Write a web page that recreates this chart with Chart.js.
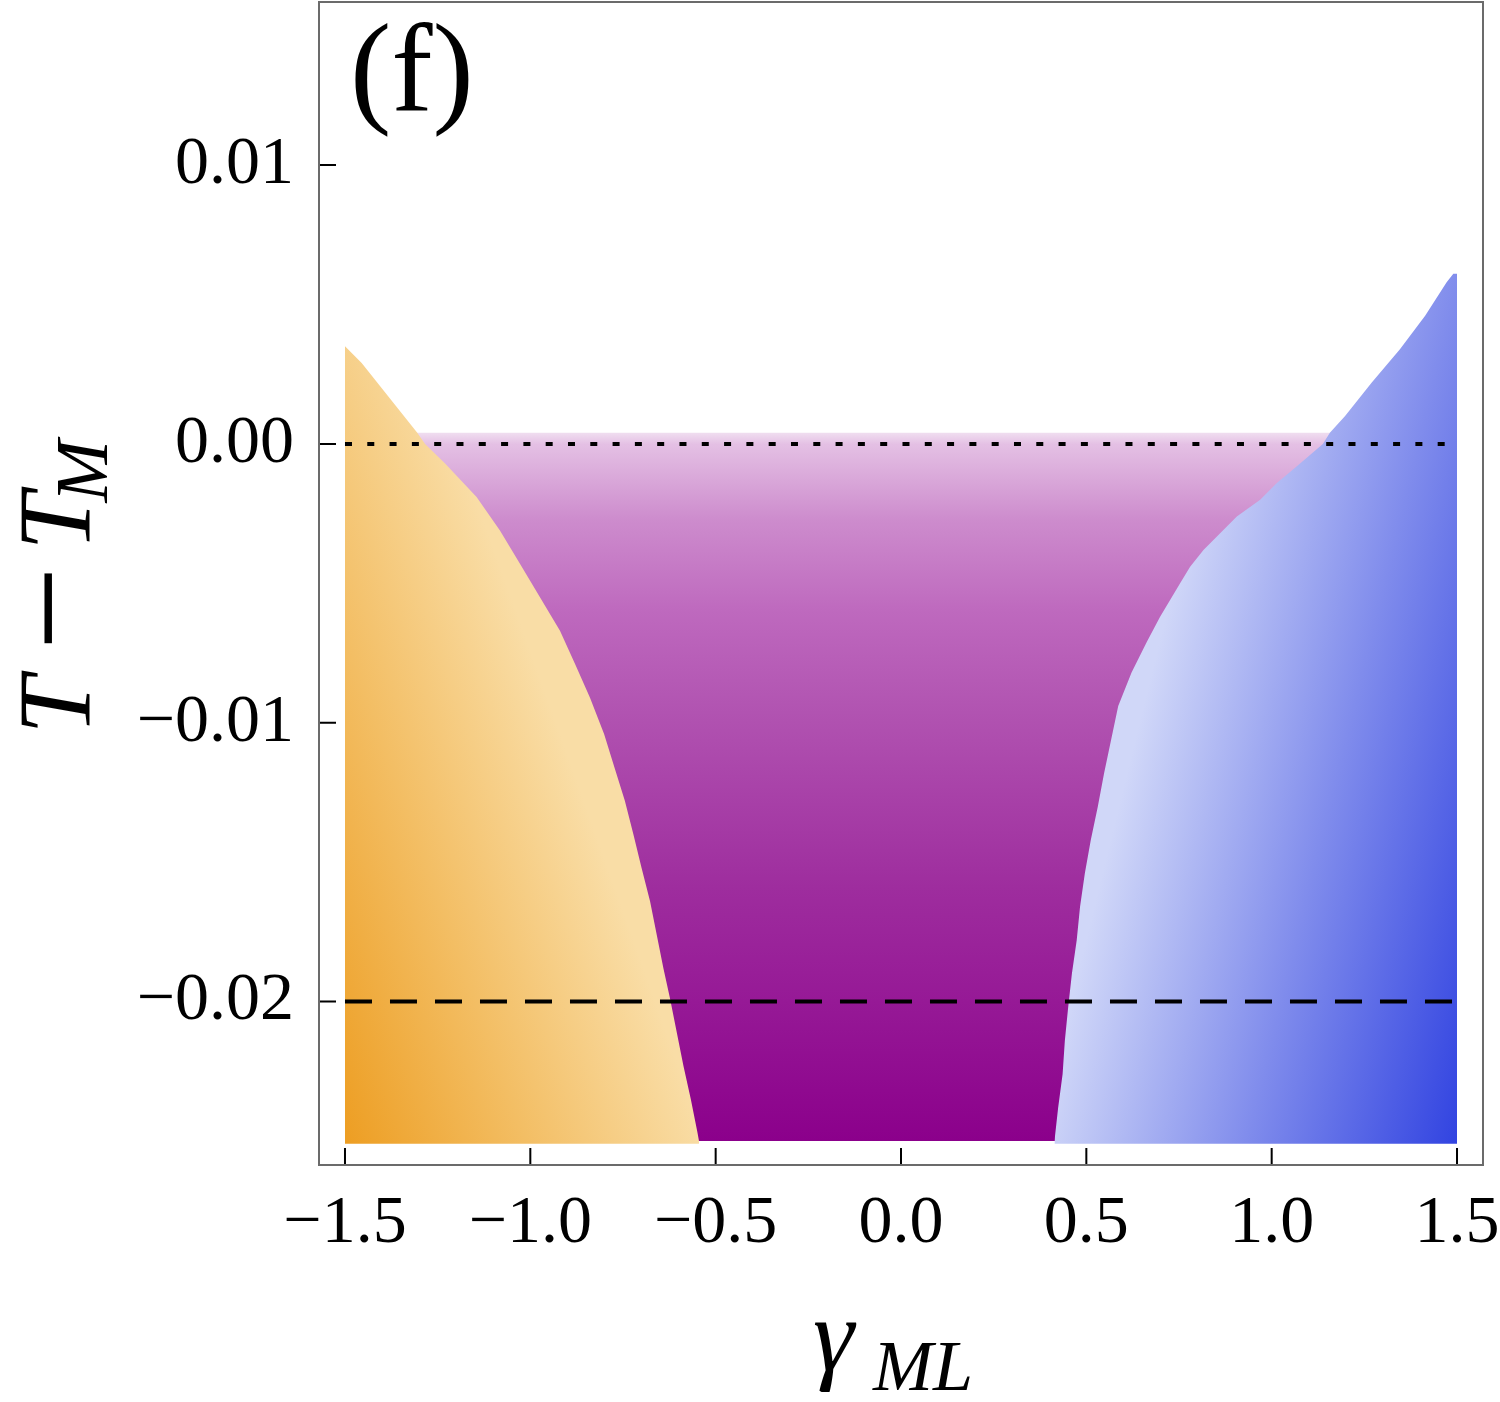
<!DOCTYPE html>
<html>
<head>
<meta charset="utf-8">
<script src="https://cdn.jsdelivr.net/npm/chart.js@4/dist/chart.umd.min.js"></script>
<style>
  html, body { margin: 0; padding: 0; background: #fff; }
  canvas { display: block; }
</style>
</head>
<body>
<canvas id="phase" width="1500" height="1402"></canvas>
<script>
// ---- data ----
const orangeX = [-1.5, -1.455, -1.383, -1.305, -1.284, -1.230, -1.145, -1.082, -1.028, -0.974, -0.920, -0.879, -0.839, -0.801, -0.773, -0.745, -0.722, -0.700, -0.677, -0.659, -0.641, -0.623, -0.605, -0.587, -0.567, -0.549, -0.545]
const orangeY = [0.0035, 0.0029, 0.0017, 0.0004, 0.0000, -0.0007, -0.0019, -0.0031, -0.0043, -0.0055, -0.0067, -0.0079, -0.0091, -0.0104, -0.0116, -0.0128, -0.0140, -0.0152, -0.0164, -0.0176, -0.0188, -0.0199, -0.0211, -0.0223, -0.0235, -0.0247, -0.0250]

const blueX = [0.414, 0.424, 0.436, 0.442, 0.451, 0.461, 0.474, 0.483, 0.496, 0.512, 0.531, 0.548, 0.567, 0.586, 0.622, 0.663, 0.699, 0.753, 0.780, 0.816, 0.861, 0.906, 0.969, 1.014, 1.068, 1.138, 1.157, 1.198, 1.270, 1.346, 1.414, 1.472, 1.490, 1.5]
const blueY = [-0.0250, -0.0238, -0.0226, -0.0214, -0.0202, -0.0190, -0.0178, -0.0166, -0.0154, -0.0142, -0.0130, -0.0118, -0.0106, -0.0094, -0.0082, -0.0071, -0.0062, -0.0050, -0.0044, -0.0038, -0.0032, -0.0026, -0.0020, -0.0014, -0.0008, 0.0000, 0.0004, 0.0010, 0.0022, 0.0034, 0.0046, 0.0058, 0.0061, 0.0061]

const purpleX = [-1.31, 1.16]
const purpleY = [0.0004, 0.0004]
const purpleBottom = -0.0250
const sideBottom = -0.0251

const refX = [-1.5, 1.5]
const dottedY = [0, 0]
const dashedY = [-0.02, -0.02]

const xTicks = [-1.5, -1.0, -0.5, 0.0, 0.5, 1.0, 1.5]
const xTickLabels = ['\u22121.5', '\u22121.0', '\u22120.5', '0.0', '0.5', '1.0', '1.5']
const yTicks = [-0.02, -0.01, 0.0, 0.01]
const yTickLabels = ['\u22120.02', '\u22120.01', '0.00', '0.01']

const panelLabel = '(f)'

// ---- helpers ----
const serif = "'Liberation Serif', 'Times New Roman', serif"
const pts = (xs, ys) => xs.map((x, i) => ({x: x, y: ys[i]}))

function linGrad(chart, x0, y0, x1, y1, stops) {
  const xs = chart.scales.x, ys = chart.scales.y
  const g = chart.ctx.createLinearGradient(
    xs.getPixelForValue(x0), ys.getPixelForValue(y0),
    xs.getPixelForValue(x1), ys.getPixelForValue(y1))
  stops.forEach(s => g.addColorStop(s[0], s[1]))
  return g
}

const orangeFill = (c) => {
  if (!c.chart.chartArea) return 'rgb(243,190,100)'
  return linGrad(c.chart, -1.5, -0.025, -0.637, -0.0209, [
    [0, 'rgb(237,158,35)'], [0.5, 'rgb(243,190,100)'], [1, 'rgb(249,221,166)']])
}
const blueFill = (c) => {
  if (!c.chart.chartArea) return 'rgb(130,140,235)'
  return linGrad(c.chart, 1.5, -0.025, 0.43, -0.0215, [
    [0, 'rgb(50,68,225)'], [0.5, 'rgb(128,140,236)'], [1, 'rgb(208,215,248)']])
}
const purpleFill = (c) => {
  if (!c.chart.chartArea) return 'rgb(170,70,170)'
  return linGrad(c.chart, 0, 0.0004, 0, -0.025, [
    [0, 'rgb(240,222,240)'], [0.016, 'rgb(228,192,228)'], [0.122, 'rgb(205,140,205)'],
    [0.252, 'rgb(190,105,190)'], [0.382, 'rgb(178,85,178)'], [0.512, 'rgb(168,65,168)'],
    [0.642, 'rgb(158,45,158)'], [0.803, 'rgb(150,25,150)'], [1, 'rgb(139,0,139)']])
}

// frame, inward ticks, titles, panel label
const decorations = {
  id: 'decorations',
  afterDraw(chart) {
    const ctx = chart.ctx
    const a = chart.chartArea
    const xs = chart.scales.x, ys = chart.scales.y
    ctx.save()
    ctx.strokeStyle = '#000'
    ctx.lineWidth = 2
    ctx.beginPath()
    xTicks.forEach(v => {
      const p = xs.getPixelForValue(v)
      ctx.moveTo(p, a.bottom); ctx.lineTo(p, a.bottom - 17)
    })
    yTicks.forEach(v => {
      const p = ys.getPixelForValue(v)
      ctx.moveTo(a.left, p); ctx.lineTo(a.left + 17, p)
    })
    ctx.stroke()

    ctx.strokeStyle = '#6b6b6b'
    ctx.lineWidth = 2
    ctx.strokeRect(a.left, a.top, a.right - a.left, a.bottom - a.top)

    ctx.fillStyle = '#000'
    ctx.textAlign = 'left'
    ctx.textBaseline = 'alphabetic'
    ctx.font = '124px ' + serif
    ctx.fillText(panelLabel, a.left + 31, a.top + 108)

    // x title: gamma_ML
    const cx = (a.left + a.right) / 2
    ctx.font = 'italic 104px ' + serif
    ctx.fillText('\u03B3', cx - 88, 1370)
    ctx.font = 'italic 72px ' + serif
    ctx.fillText('ML', cx - 28, 1390)

    // y title: T - T_M (rotated)
    const cy = (a.top + a.bottom) / 2
    ctx.translate(90, cy + 147)
    ctx.rotate(-Math.PI / 2)
    ctx.font = 'italic 104px ' + serif
    ctx.fillText('T', -4, 0)
    ctx.font = '150px ' + serif
    ctx.fillText('\u2212', 80, 8)
    ctx.font = 'italic 104px ' + serif
    ctx.fillText('T', 180, 0)
    ctx.font = 'italic 75px ' + serif
    ctx.fillText('M', 228, 17)
    ctx.restore()
  }
}

const chart = new Chart(document.getElementById('phase'), {
  type: 'line',
  data: {
    datasets: [
      {
        data: pts(refX, dottedY), borderColor: '#000', borderWidth: 4,
        borderDash: [7, 15.3], pointRadius: 0, fill: false, order: 0
      },
      {
        data: pts(refX, dashedY), borderColor: '#000', borderWidth: 4,
        borderDash: [27, 18], pointRadius: 0, fill: false, order: 0
      },
      {
        data: pts(orangeX, orangeY), borderWidth: 0, borderColor: 'rgba(0,0,0,0)',
        backgroundColor: orangeFill, pointRadius: 0, fill: {value: sideBottom}, order: 1
      },
      {
        data: pts(blueX, blueY), borderWidth: 0, borderColor: 'rgba(0,0,0,0)',
        backgroundColor: blueFill, pointRadius: 0, fill: {value: sideBottom}, order: 1
      },
      {
        data: pts(purpleX, purpleY), borderWidth: 0, borderColor: 'rgba(0,0,0,0)',
        backgroundColor: purpleFill, pointRadius: 0, fill: {value: purpleBottom}, order: 2
      }
    ]
  },
  options: {
    responsive: false,
    animation: false,
    layout: { padding: { top: 2, right: 17, left: 0, bottom: 0 } },
    plugins: { legend: { display: false }, tooltip: { enabled: false } },
    scales: {
      x: {
        type: 'linear', position: 'bottom', min: -1.5701, max: 1.5701,
        grid: { display: false }, border: { display: false },
        afterBuildTicks: s => { s.ticks = xTicks.map(v => ({value: v})) },
        afterFit: s => { s.height = 237; s.paddingLeft = 0; s.paddingRight = 0 },
        ticks: {
          autoSkip: false, maxRotation: 0, padding: 10, color: '#000',
          font: { family: serif, size: 68 },
          callback: (v, i) => xTickLabels[i]
        }
      },
      y: {
        type: 'linear', min: -0.02586, max: 0.01585,
        grid: { display: false }, border: { display: false },
        afterBuildTicks: s => { s.ticks = yTicks.map(v => ({value: v})) },
        afterFit: s => { s.width = 319; s.paddingTop = 0; s.paddingBottom = 0 },
        ticks: {
          autoSkip: false, padding: 17, color: '#000',
          font: { family: serif, size: 68 },
          callback: (v, i) => yTickLabels[i]
        }
      }
    }
  },
  plugins: [decorations]
})
</script>
</body>
</html>
